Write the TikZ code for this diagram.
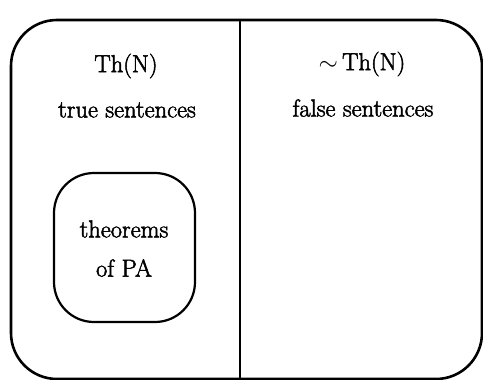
\documentclass[tikz,border=0pt]{standalone}
\usepackage{fontspec}
\newfontfamily\heavyrm{Latin Modern Roman}[FakeBold=2]
\begin{document}
\begin{tikzpicture}[x=1pt,y=-1pt,
  lbl/.style={font=\heavyrm\fontsize{24.5}{28}\selectfont, inner sep=0pt, anchor=center},
  frame/.style={line width=2.6pt, rounded corners=46pt},
  inbox/.style={line width=2.2pt, rounded corners=40pt},
  divider/.style={line width=2.6pt}]
\useasboundingbox (0,0) rectangle (483,380);
% outer frame
\draw[frame] (11,20) rectangle (482,379);
% divider
\coordinate (dtop) at (240,20);
\coordinate (dbot) at (240,379);
\draw[divider] (dtop) -- (dbot);
% inner box
\draw[inbox] (54,173) rectangle (195,322);
% labels
\node[lbl] (thn) at (126,66) {Th(N)};
\node[lbl] (true) at (127,110) {true sentences};
\node[lbl] (nthn) at (362,64) {$\sim$\,Th(N)};
\node[lbl] (false) at (363,108) {false sentences};
\node[lbl] (thm) at (124,229) {theorems};
\node[lbl] (pa) at (124,268) {of PA};
\end{tikzpicture}
\end{document}
